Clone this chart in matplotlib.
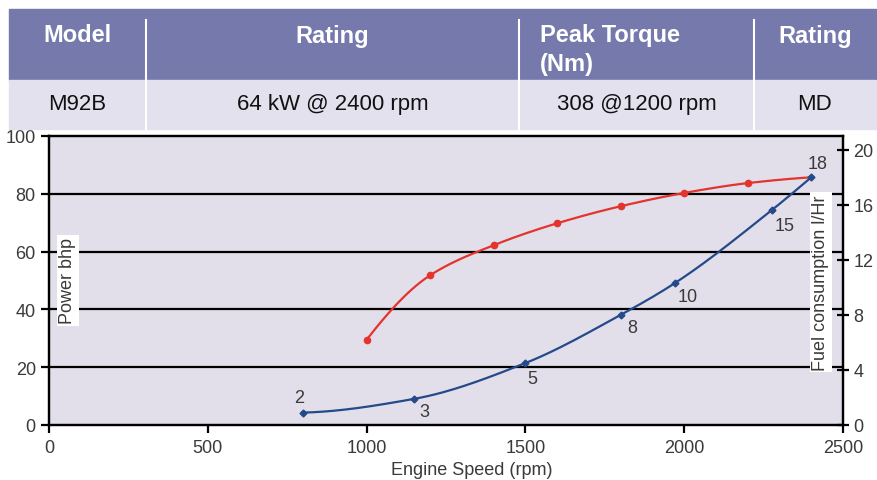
import numpy as np
import matplotlib
matplotlib.use("Agg")
import matplotlib.pyplot as plt
from matplotlib.patches import Rectangle

plt.rcParams['font.family'] = ['Liberation Sans', 'DejaVu Sans']

# spec table
table_header = ["Model", "Rating", "Peak Torque\n(Nm)", "Rating"]
table_row = ["M92B", "64 kW @ 2400 rpm", "308 @1200 rpm", "MD"]

# power curve (left axis, bhp)
power_rpm = [1000, 1200, 1400, 1600, 1800, 2000, 2200, 2400]
power_bhp = [29.5, 51.8, 62.2, 69.8, 75.7, 80.3, 83.7, 85.7]

# fuel curve (right axis, l/hr)
fuel_rpm = [800, 1150, 1500, 1800, 1970, 2275, 2400]
fuel_lhr = [0.9, 1.9, 4.5, 8.0, 10.3, 15.6, 18.0]
fuel_labels = ["2", "3", "5", "8", "10", "15", "18"]

x_ticks = [0, 500, 1000, 1500, 2000, 2500]
left_ticks = [0, 20, 40, 60, 80, 100]
right_ticks = [0, 4, 8, 12, 16, 20]

W, H = 878, 481
HEAD_C = "#7579ab"
ROW_C = "#e4e1ee"
PLOT_C = "#e2dfeb"
RED = "#e3342d"
BLUE = "#244a8a"


def px(x, y):
    return x / W, 1 - y / H


def pchip(x, y, n=200):
    # shape preserving cubic, only to draw a smooth line through the points
    x = np.asarray(x, float)
    y = np.asarray(y, float)
    h = np.diff(x)
    d = np.diff(y) / h
    m = np.zeros(len(x))
    for i in range(1, len(x) - 1):
        if d[i - 1] * d[i] > 0:
            w1 = 2 * h[i] + h[i - 1]
            w2 = h[i] + 2 * h[i - 1]
            m[i] = (w1 + w2) / (w1 / d[i - 1] + w2 / d[i])
    m[0] = ((2 * h[0] + h[1]) * d[0] - h[0] * d[1]) / (h[0] + h[1])
    if np.sign(m[0]) != np.sign(d[0]):
        m[0] = 0
    m[-1] = ((2 * h[-1] + h[-2]) * d[-1] - h[-1] * d[-2]) / (h[-1] + h[-2])
    if np.sign(m[-1]) != np.sign(d[-1]):
        m[-1] = 0
    xs = np.linspace(x[0], x[-1], n)
    j = np.clip(np.searchsorted(x, xs) - 1, 0, len(x) - 2)
    t = (xs - x[j]) / h[j]
    h00 = 2 * t ** 3 - 3 * t ** 2 + 1
    h10 = t ** 3 - 2 * t ** 2 + t
    h01 = -2 * t ** 3 + 3 * t ** 2
    h11 = t ** 3 - t ** 2
    ys = h00 * y[j] + h10 * h[j] * m[j] + h01 * y[j + 1] + h11 * h[j] * m[j + 1]
    return xs, ys


fig = plt.figure(figsize=(W / 100, H / 100), dpi=100)

# ---- table ----
cols = [9, 146, 519, 754, 876]
fig.patches.append(Rectangle(px(9, 81), (876 - 9) / W, 71 / H, transform=fig.transFigure,
                             color=HEAD_C, zorder=0))
fig.patches.append(Rectangle(px(9, 130), (876 - 9) / W, 49 / H, transform=fig.transFigure,
                             color=ROW_C, zorder=0))
for c in cols[1:-1]:
    fig.add_artist(plt.Line2D([c / W, c / W], [1 - 21 / H, 1 - 130 / H],
                              transform=fig.transFigure, color="white", lw=1.5))

for i, txt in enumerate(table_header):
    cx = (cols[i] + cols[i + 1]) / 2
    if "\n" in txt:
        fig.text(*px(cols[i] + 21, 50), txt, ha="left", va="center", color="white",
                 fontsize=17, fontweight="bold", linespacing=1.3)
    else:
        fig.text(*px(cx, 36), txt, ha="center", va="center", color="white",
                 fontsize=17, fontweight="bold")
for i, txt in enumerate(table_row):
    cx = (cols[i] + cols[i + 1]) / 2
    fig.text(*px(cx, 105), txt, ha="center", va="center", color="#111111", fontsize=16)

# ---- chart ----
ax = fig.add_axes([49 / W, 1 - 426 / H, 794 / W, 289 / H])
ax.set_facecolor(PLOT_C)
ax.set_xlim(0, 2500)
ax.set_ylim(0, 100)
ax.set_xticks(x_ticks)
ax.set_yticks(left_ticks)
for v in left_ticks[1:-1]:
    ax.axhline(v, color="black", lw=1.6, zorder=1)
for s in ax.spines.values():
    s.set_linewidth(1.6)
ax.tick_params(axis="both", labelsize=13, labelcolor="#3a3a3a", width=1.6, length=6)
ax.tick_params(axis="x", pad=4)

ax2 = ax.twinx()
ax2.set_ylim(0, 21)
ax2.set_yticks(right_ticks)
ax2.tick_params(axis="y", labelsize=13, labelcolor="#3a3a3a", width=1.6, length=8,
                direction="inout")
for s in ax2.spines.values():
    s.set_linewidth(1.6)

xs, ys = pchip(power_rpm, power_bhp)
ax2.plot(xs, np.array(ys) * 21 / 100, color=RED, lw=1.6, zorder=3)
ax2.plot(power_rpm[:-1], np.array(power_bhp[:-1]) * 21 / 100, "o", color=RED, ms=4.5, zorder=4)

xs, ys = pchip(fuel_rpm, fuel_lhr)
ax2.plot(xs, ys, color=BLUE, lw=1.6, zorder=3)
ax2.plot(fuel_rpm, fuel_lhr, "D", color=BLUE, ms=3.5, zorder=4)

offs = [(-4, 15), (10, -13), (7, -15), (12, -13), (13, -13), (13, -15), (6, 14)]
for xv, yv, lab, (dx, dy) in zip(fuel_rpm, fuel_lhr, fuel_labels, offs):
    ax2.annotate(lab, (xv, yv), xytext=(dx * 0.72, dy * 0.72), textcoords="offset points",
                 ha="center", va="center", fontsize=13, color="#3a3a3a")

ax.set_xlabel("Engine Speed (rpm)", fontsize=13, color="#3a3a3a")
ax.xaxis.set_label_coords((472 - 49) / 794, -0.125)
ax2.text((68 - 49) / 794, 0.5, "Power bhp", transform=ax.transAxes, rotation=90, ha="center",
         va="center", fontsize=13, color="#3a3a3a", zorder=5,
         bbox=dict(facecolor="white", edgecolor="none", pad=2))
ax2.text((821 - 49) / 794, (426 - 283) / 289, "Fuel consumption l/Hr", transform=ax.transAxes,
         rotation=90, ha="center", va="center", fontsize=13, color="#3a3a3a", zorder=5,
         bbox=dict(facecolor="white", edgecolor="none", pad=2))

fig.savefig("out.png", dpi=100, facecolor="white")
